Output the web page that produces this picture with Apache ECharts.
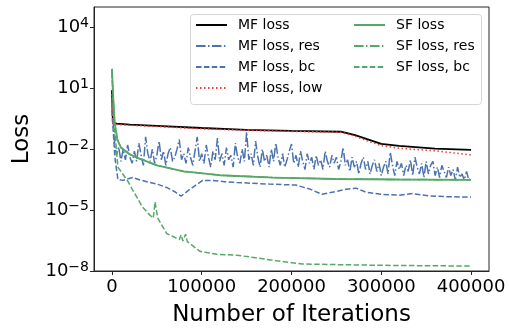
<!DOCTYPE html>
<html>
<head>
<meta charset="utf-8">
<script src="https://cdn.jsdelivr.net/npm/echarts@6/dist/echarts.min.js"></script>
<style>
  html, body { margin: 0; padding: 0; background: #fff; }
  #main { width: 509px; height: 332px; }
</style>
</head>
<body>
<div id="main"></div>
<script>
// tick positions
const xTicks = [0, 100000, 200000, 300000, 400000];
const yTicks = [1e-8, 1e-5, 1e-2, 1e1, 1e4];

// iterations are in thousands
const mfLossK = [0, 1, 5, 20, 50, 100, 150, 200, 255, 270, 285, 300, 320, 360, 400];
const mfLoss = [8, 0.22, 0.18, 0.16, 0.14, 0.11, 0.09, 0.08, 0.072, 0.05, 0.03, 0.018, 0.0145, 0.0105, 0.0093];

const mfLowK = [0, 1, 5, 20, 50, 100, 150, 200, 255, 270, 285, 300, 320, 360, 400];
const mfLow = [5, 0.2, 0.165, 0.15, 0.13, 0.1, 0.085, 0.075, 0.068, 0.045, 0.025, 0.015, 0.011, 0.0083, 0.0052];

const mfResK = [0,
  2.5, 5, 7.5, 10, 12.5, 15, 17.5, 20, 22.5, 25,
  27.5, 30, 32.5, 35, 37.5, 40, 42.5, 45, 47.5, 50,
  52.5, 55, 57.5, 60, 62.5, 65, 67.5, 70, 72.5, 75,
  77.5, 80, 82.5, 85, 87.5, 90, 92.5, 95, 97.5, 100,
  102.5, 105, 107.5, 110, 112.5, 115, 117.5, 120, 122.5, 125,
  127.5, 130, 132.5, 135, 137.5, 140, 142.5, 145, 147.5, 150,
  152.5, 155, 157.5, 160, 162.5, 165, 167.5, 170, 172.5, 175,
  177.5, 180, 182.5, 185, 187.5, 190, 192.5, 195, 197.5, 200,
  202.5, 205, 207.5, 210, 212.5, 215, 217.5, 220, 222.5, 225,
  227.5, 230, 232.5, 235, 237.5, 240, 242.5, 245, 247.5, 250,
  252.5, 255, 257.5, 260, 262.5, 265, 267.5, 270, 272.5, 275,
  277.5, 280, 282.5, 285, 287.5, 290, 292.5, 295, 297.5, 300,
  302.5, 305, 307.5, 310, 312.5, 315, 317.5, 320, 322.5, 325,
  327.5, 330, 332.5, 335, 337.5, 340, 342.5, 345, 347.5, 350,
  352.5, 355, 357.5, 360, 362.5, 365, 367.5, 370, 372.5, 375,
  377.5, 380, 382.5, 385, 387.5, 390, 392.5, 395, 397.5, 400];
const mfRes = [2,
  3e-2, 5e-3, 1.3e-2, 2.5e-3, 1e-2, 3e-3, 1.6e-2, 4e-3, 2e-3, 8e-3,
  2.5e-3, 2e-2, 5e-3, 1.6e-3, 4e-2, 6e-3, 2.5e-3, 1e-2, 2e-3, 5e-3,
  2.5e-2, 3e-3, 8e-3, 1.6e-3, 6e-3, 1.2e-2, 2.5e-3, 4e-3, 1e-2, 3e-2,
  3e-3, 6e-3, 2e-3, 1.2e-2, 4e-3, 1.6e-3, 8e-3, 4e-2, 2.5e-3, 6e-3,
  2e-3, 1.6e-2, 4e-3, 1.3e-3, 8e-3, 3e-3, 3.5e-2, 2.5e-3, 6e-3, 1.6e-3,
  1.2e-2, 3e-3, 5e-3, 1.3e-3, 2e-2, 4e-3, 2e-3, 1e-2, 2.5e-3, 7e-2,
  3e-3, 6e-3, 1.6e-3, 2.5e-2, 4e-3, 1.3e-3, 1e-2, 2.5e-3, 5e-3, 1.3e-3,
  1e-2, 2.5e-3, 2e-2, 4e-3, 1.6e-3, 6e-3, 1.3e-3, 3e-3, 8e-3, 1.8e-2,
  2e-3, 5e-3, 1.3e-3, 8e-3, 2.5e-3, 1e-3, 6e-3, 2e-3, 4e-3, 1e-3,
  5e-3, 1.6e-3, 3e-3, 1e-3, 8e-3, 2.5e-3, 1.3e-3, 5e-3, 2e-3, 4e-3,
  1e-3, 2.5e-3, 1.2e-2, 1.6e-3, 3e-3, 8e-4, 4e-3, 1.3e-3, 2.5e-3, 6e-4,
  2e-3, 4e-3, 1e-3, 2.5e-3, 6e-4, 1.6e-3, 3e-3, 8e-4, 2e-3, 5e-4,
  1.3e-3, 2.5e-3, 6e-4, 7e-3, 1.6e-3, 5e-4, 2.5e-3, 1e-3, 2e-3, 5e-4,
  1.6e-3, 8e-4, 3e-3, 5e-4, 4e-3, 1.3e-3, 6e-4, 2e-3, 4e-4, 2.5e-3,
  6e-4, 1.6e-3, 2.5e-3, 5e-4, 1.3e-3, 4e-4, 1.6e-3, 8e-4, 4e-4, 1.3e-3,
  5e-4, 1e-3, 3e-4, 1.3e-3, 4e-4, 6e-4, 3e-4, 8e-4, 3e-4, 4e-4];

const mfBcK = [0, 2, 3.3, 6.6, 12, 23, 32, 42, 52, 61, 70, 77, 87, 101, 112, 125, 139, 155, 175, 190,
  205, 220, 234, 248, 261, 272, 283, 300, 320, 335, 353, 375, 400];
const mfBc = [0.8, 3e-2, 3.8e-3, 3.2e-4, 2.9e-4, 4e-4, 3e-4, 2.3e-4, 1.8e-4, 1.3e-4,
  8e-5, 4.9e-5, 1.07e-4, 2.9e-4, 2.9e-4, 2.5e-4, 2.3e-4, 2.1e-4, 1.9e-4, 1.8e-4,
  1.7e-4, 1.1e-4, 6e-5, 8e-5, 1.07e-4, 1.2e-4, 7.6e-5, 6e-5, 5.4e-5, 6.5e-5,
  5e-5, 4.5e-5, 4.4e-5];

const sfLossK = [0, 1, 3, 6, 10, 20, 30, 50, 80, 120, 180, 250, 320, 400];
const sfLoss = [90, 8, 0.2, 0.03, 0.012, 5.5e-3, 3.5e-3, 1.6e-3, 8e-4, 5.2e-4, 4e-4, 3.4e-4, 3.2e-4, 3.1e-4];

const sfResK = [0, 1, 3, 6, 10, 20, 30, 50, 80, 120, 180, 250, 320, 400];
const sfRes = [90, 8, 0.2, 0.03, 0.012, 5.4e-3, 3.4e-3, 1.6e-3, 8e-4, 5.2e-4, 4e-4, 3.4e-4, 3.2e-4, 3.1e-4];

const sfBcK = [0, 2, 6.6, 12, 18, 23, 34, 42, 46, 48, 49.5, 51, 55, 61, 68, 75, 77, 79, 82, 84,
  98, 117, 139, 160, 183, 212, 300, 400];
const sfBc = [60, 0.3, 1.3e-3, 6e-4, 2.5e-4, 1e-4, 1.4e-5, 5.8e-6, 4e-6, 2.5e-5,
  2.5e-5, 4e-6, 2e-6, 7e-7, 5e-7, 3.5e-7, 6e-7, 3e-7, 6.5e-7, 2.8e-7,
  9.3e-8, 6.6e-8, 6e-8, 4.5e-8, 3.2e-8, 2.2e-8, 1.9e-8, 1.75e-8];

const FONT = 'DejaVu Sans';
const BLUE = '#4c72b0';
const GREEN = '#55a868';
const RED = '#e8403c';
const DASH = [5.5, 2.4];
const DASHDOT = [9.6, 2.4, 1.5, 2.4];
const DOT = [1.5, 2.5];

function pairs(k, v) {
  return k.map((x, i) => [x * 1000, v[i]]);
}

function line(name, k, v, color, type, width) {
  return {
    name: name,
    type: 'line',
    data: pairs(k, v),
    symbol: 'none',
    showSymbol: false,
    animation: false,
    itemStyle: { color: color },
    lineStyle: { color: color, width: width || 1.5, type: type }
  };
}

const legendBase = {
  orient: 'vertical',
  top: 18,
  itemWidth: 31,
  itemHeight: 14,
  itemGap: 7,
  padding: 0,
  itemStyle: { opacity: 0 },
  textStyle: { fontFamily: FONT, fontSize: 14, color: '#000', padding: [0, 0, 0, 6] }
};

const chart = echarts.init(document.getElementById('main'));
chart.setOption({
  animation: false,
  backgroundColor: '#fff',
  grid: { left: 94, right: 20, top: 7, bottom: 57, show: true, borderColor: '#262626', borderWidth: 1, backgroundColor: 'transparent' },
  graphic: [{
    type: 'rect',
    z: 3,
    shape: { x: 190.5, y: 14.5, width: 291, height: 90, r: 3 },
    style: { fill: 'rgba(255,255,255,0.8)', stroke: '#d5d5d5', lineWidth: 1 }
  }],
  legend: [
    Object.assign({}, legendBase, { left: 195, data: ['MF loss', 'MF loss, res', 'MF loss, bc', 'MF loss, low'] }),
    Object.assign({}, legendBase, { left: 353, data: ['SF loss', 'SF loss, res', 'SF loss, bc'] })
  ],
  xAxis: {
    type: 'value',
    min: -20000,
    max: 420000,
    name: 'Number of Iterations',
    nameLocation: 'middle',
    nameGap: 33,
    nameTextStyle: { fontFamily: FONT, fontSize: 23, color: '#000' },
    axisLine: { show: true, onZero: false, lineStyle: { color: '#262626', width: 1 } },
    axisTick: { show: true, length: 4, customValues: xTicks, lineStyle: { color: '#262626' } },
    axisLabel: {
      customValues: xTicks,
      margin: 7,
      fontFamily: FONT, fontSize: 18, color: '#000',
      formatter: v => String(v)
    },
    splitLine: { show: false }
  },
  yAxis: {
    type: 'log',
    logBase: 10,
    min: 1e-8,
    max: 1e5,
    name: 'Loss',
    nameLocation: 'middle',
    nameGap: 60,
    nameTextStyle: { fontFamily: FONT, fontSize: 23, color: '#000' },
    axisLine: { show: true, onZero: false, lineStyle: { color: '#262626', width: 1 } },
    axisTick: { show: true, length: 4, customValues: yTicks, lineStyle: { color: '#262626' } },
    minorTick: { show: false },
    axisLabel: {
      customValues: yTicks,
      margin: 5,
      formatter: v => {
        const e = Math.round(Math.log10(v));
        return '{b|10}{s|' + (e < 0 ? '\u2212' + (-e) : e) + '}';
      },
      rich: {
        b: { fontFamily: FONT, fontSize: 18, color: '#000', lineHeight: 22 },
        s: { fontFamily: FONT, fontSize: 14, color: '#000', lineHeight: 14, verticalAlign: 'top' }
      }
    },
    splitLine: { show: false }
  },
  series: [
    line('MF loss', mfLossK, mfLoss, '#000', 'solid', 1.8),
    line('MF loss, res', mfResK, mfRes, BLUE, DASHDOT, 1.5),
    line('MF loss, bc', mfBcK, mfBc, BLUE, DASH, 1.5),
    line('MF loss, low', mfLowK, mfLow, RED, DOT, 1.5),
    line('SF loss', sfLossK, sfLoss, GREEN, 'solid', 1.8),
    line('SF loss, res', sfResK, sfRes, GREEN, DASHDOT, 1.5),
    line('SF loss, bc', sfBcK, sfBc, GREEN, DASH, 1.5)
  ]
});
</script>
</body>
</html>
